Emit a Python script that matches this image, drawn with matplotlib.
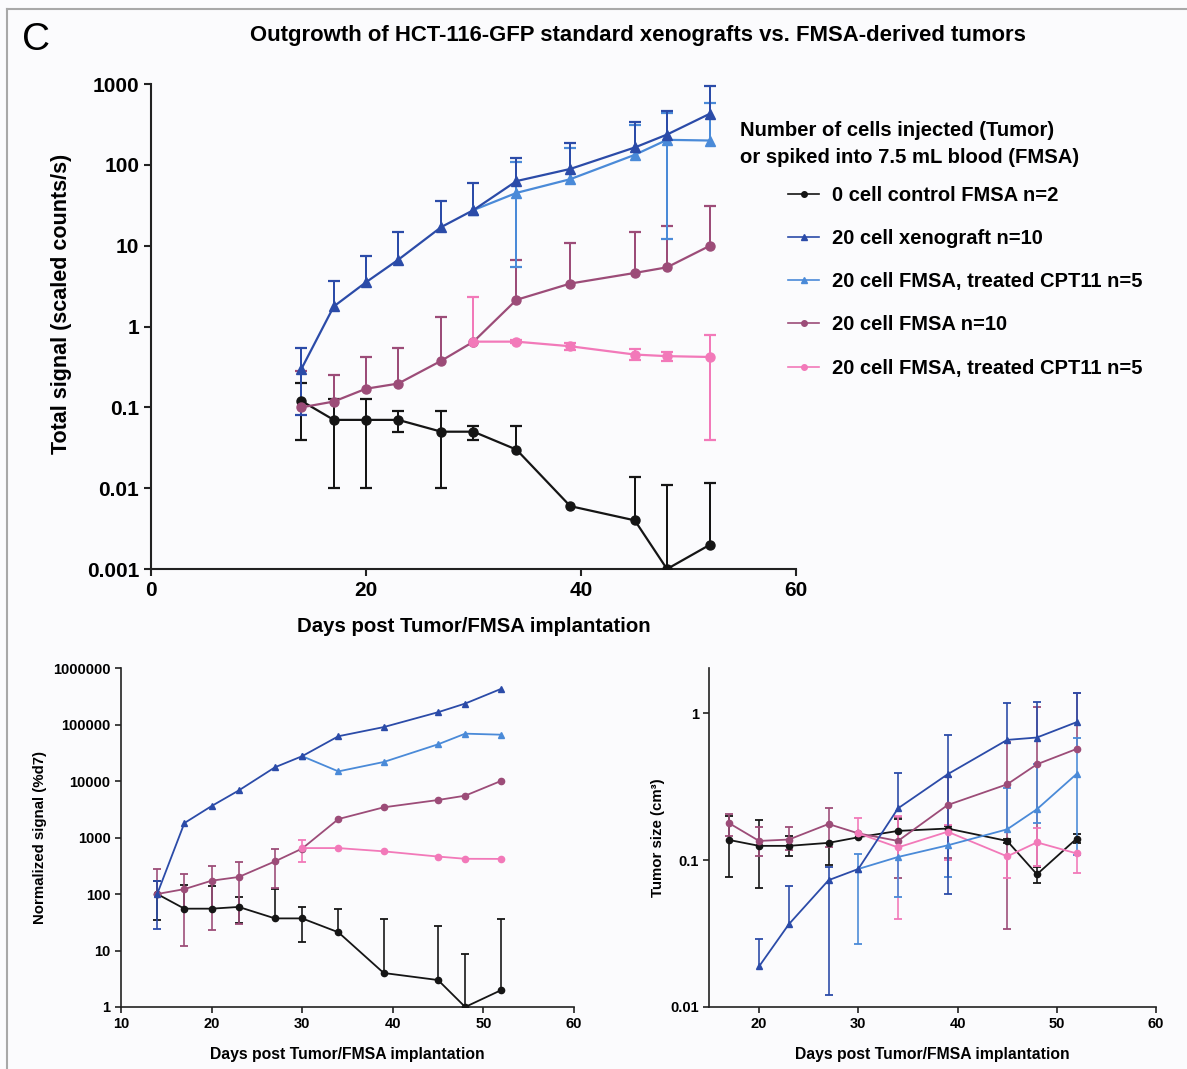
import matplotlib

matplotlib.use("Agg")
import matplotlib.pyplot as plt
import numpy as np
from matplotlib.lines import Line2D
from matplotlib.ticker import FixedLocator, FixedFormatter

nan = np.nan

# ---- data -----------------------------------------------------------------
days = [14, 17, 20, 23, 27, 30, 34, 39, 45, 48, 52]
days_late = [30, 34, 39, 45, 48, 52]
days_size = [17, 20, 23, 27, 30, 34, 39, 45, 48, 52]
days_size_xeno = [20, 23, 27, 30, 34, 39, 45, 48, 52]

legend_labels = [
    "0 cell control FMSA n=2",
    "20 cell xenograft n=10",
    "20 cell FMSA, treated CPT11 n=5",
    "20 cell FMSA n=10",
    "20 cell FMSA, treated CPT11 n=5",
]

# top panel: total signal (scaled counts/s)
sig_control = [0.12, 0.07, 0.07, 0.07, 0.05, 0.05, 0.03, 0.006, 0.004, 0.001, 0.002]
sig_control_hi = [0.2, 0.127, 0.127, 0.089, 0.089, 0.059, 0.059, nan, 0.0137, 0.0108, 0.0117]
sig_control_lo = [0.04, 0.01, 0.01, 0.049, 0.01, 0.04, nan, nan, nan, nan, nan]

sig_xeno = [0.3, 1.77, 3.53, 6.7, 17, 27.6, 63, 89, 164, 237, 430]
sig_xeno_hi = [0.54, 3.7, 7.5, 14.7, 36, 59, 120, 185, 340, 470, 940]
sig_xeno_lo = [0.08, nan, nan, nan, nan, nan, nan, nan, nan, nan, nan]

sig_cpt_blue = [27.6, 45, 66.5, 133, 204, 200]
sig_cpt_blue_hi = [nan, 110, 162, 310, 440, 580]
sig_cpt_blue_lo = [nan, 5.5, nan, nan, 12, nan]

sig_fmsa = [0.1, 0.118, 0.17, 0.197, 0.377, 0.65, 2.14, 3.4, 4.6, 5.4, 10]
sig_fmsa_hi = [0.28, 0.25, 0.42, 0.55, 1.33, nan, 6.7, 10.7, 14.7, 17.4, 31]
sig_fmsa_lo = [nan] * 11

sig_cpt_pink = [0.65, 0.65, 0.57, 0.45, 0.43, 0.42]
sig_cpt_pink_hi = [2.35, 0.68, 0.63, 0.52, 0.48, 0.79]
sig_cpt_pink_lo = [nan, 0.62, 0.51, 0.39, 0.37, 0.04]

# bottom left: normalized signal (%d7)
norm_control = [100, 55, 55, 59, 37, 37, 21, 4, 3, 1, 2]
norm_control_hi = [172, 146, 136, 87, 124, 60, 54, 36.5, 27.5, 8.8, 36.5]
norm_control_lo = [35, nan, nan, 31, nan, 14, nan, nan, nan, nan, nan]

norm_xeno = [100, 1800, 3600, 6800, 17500, 27500, 62000, 90000, 165000, 235000, 430000]
norm_xeno_hi = [170] + [nan] * 10
norm_xeno_lo = [24] + [nan] * 10

norm_cpt_blue = [27500, 14800, 21700, 44600, 68900, 66000]
norm_cpt_blue_hi = [nan] * 6
norm_cpt_blue_lo = [nan] * 6

norm_fmsa = [100, 122, 172, 200, 378, 637, 2120, 3420, 4610, 5500, 10100]
norm_fmsa_hi = [280, 230, 313, 372, 630, nan, nan, nan, nan, nan, nan]
norm_fmsa_lo = [nan, 12, 23, 30, 130, nan, nan, nan, nan, nan, nan]

norm_cpt_pink = [650, 650, 569, 460, 420, 418]
norm_cpt_pink_hi = [900, nan, nan, nan, nan, nan]
norm_cpt_pink_lo = [372, nan, nan, nan, nan, nan]

# bottom right: tumor size (cm3)
size_control = [0.137, 0.125, 0.125, 0.131, 0.143, 0.158, 0.164, 0.135, 0.080, 0.140]
size_control_hi = [0.2, 0.187, 0.146, nan, nan, 0.19, 0.17, 0.14, 0.09, 0.15]
size_control_lo = [0.077, 0.065, 0.106, 0.092, nan, nan, nan, 0.13, 0.07, 0.13]

size_xeno = [0.0189, 0.0366, 0.073, 0.087, 0.225, 0.384, 0.658, 0.683, 0.869]
size_xeno_hi = [0.029, 0.067, 0.09, nan, 0.39, 0.71, 1.17, 1.2, 1.37]
size_xeno_lo = [nan, nan, 0.012, nan, nan, 0.059, nan, nan, nan]

size_cpt_blue = [0.087, 0.105, 0.126, 0.162, 0.222, 0.386]
size_cpt_blue_hi = [0.11, nan, nan, 0.31, 0.45, 0.675]
size_cpt_blue_lo = [0.027, 0.056, 0.077, nan, 0.178, 0.108]

size_fmsa = [0.178, 0.135, 0.138, 0.176, 0.152, 0.135, 0.237, 0.328, 0.449, 0.571]
size_fmsa_hi = [0.206, 0.167, 0.169, 0.225, nan, 0.198, 0.37, 0.64, 1.1, 1.37]
size_fmsa_lo = [0.145, 0.106, 0.117, 0.123, nan, 0.075, 0.103, 0.034, 0.091, nan]

size_cpt_pink = [0.152, 0.122, 0.156, 0.106, 0.132, 0.111]
size_cpt_pink_hi = [0.192, 0.2, 0.172, nan, 0.165, nan]
size_cpt_pink_lo = [nan, 0.040, 0.1, 0.075, 0.091, 0.082]

top_yticks = [0.001, 0.01, 0.1, 1, 10, 100, 1000]
top_yticklabels = ["0.001", "0.01", "0.1", "1", "10", "100", "1000"]
norm_yticks = [1, 10, 100, 1000, 10000, 100000, 1000000]
norm_yticklabels = ["1", "10", "100", "1000", "10000", "100000", "1000000"]
size_yticks = [0.01, 0.1, 1]
size_yticklabels = ["0.01", "0.1", "1"]

# ---- style ----------------------------------------------------------------
BLACK = "#151515"
DARK_BLUE = "#2b4ba8"
LIGHT_BLUE = "#4a8ad8"
PURPLE = "#9c4c78"
PINK = "#f279b9"
BG = "#fbfbfd"

plt.rcParams["font.family"] = ["Liberation Sans", "DejaVu Sans"]
plt.rcParams["font.weight"] = "bold"


def draw_series(ax, x, y, hi, lo, color, marker, ms, lw, cap):
    """Line with markers plus one-sided or two-sided capped error bars."""
    x = np.asarray(x, float)
    y = np.asarray(y, float)
    for ends in (np.asarray(hi, float), np.asarray(lo, float)):
        ok = ~np.isnan(ends)
        if not ok.any():
            continue
        ax.vlines(x[ok], y[ok], ends[ok], color=color, lw=lw * 0.9, zorder=2)
        ax.plot(x[ok], ends[ok], ls="none", marker="_", ms=cap, mew=lw,
                color=color, zorder=2)
    ax.plot(x, y, color=color, lw=lw, marker=marker, ms=ms, zorder=3)


def style_axes(ax, yticks, yticklabels, xticks, fs, spine_w, tick_len):
    ax.set_yscale("log")
    ax.set_facecolor(BG)
    for side in ("top", "right"):
        ax.spines[side].set_visible(False)
    for side in ("left", "bottom"):
        ax.spines[side].set_linewidth(spine_w)
        ax.spines[side].set_color("#222222")
    ax.yaxis.set_major_locator(FixedLocator(yticks))
    ax.yaxis.set_major_formatter(FixedFormatter(yticklabels))
    ax.yaxis.set_minor_locator(FixedLocator([]))
    ax.set_xticks(xticks)
    ax.tick_params(direction="out", length=tick_len, width=spine_w,
                   labelsize=fs, color="#222222")
    for lab in ax.get_xticklabels() + ax.get_yticklabels():
        lab.set_fontweight("bold")


def plot_panel(ax, series, ms, lw, cap):
    for x, y, hi, lo, color, marker in series:
        draw_series(ax, x, y, hi, lo, color, marker, ms, lw, cap)


fig = plt.figure(figsize=(11.87, 10.69), dpi=100, facecolor=BG)

# ---- top panel ------------------------------------------------------------
ax_top = fig.add_axes([0.1272, 0.4677, 0.5434, 0.4537])
plot_panel(ax_top, [
    (days, sig_control, sig_control_hi, sig_control_lo, BLACK, "o"),
    (days, sig_fmsa, sig_fmsa_hi, sig_fmsa_lo, PURPLE, "o"),
    (days_late, sig_cpt_pink, sig_cpt_pink_hi, sig_cpt_pink_lo, PINK, "o"),
    (days_late, sig_cpt_blue, sig_cpt_blue_hi, sig_cpt_blue_lo, LIGHT_BLUE, "^"),
    (days, sig_xeno, sig_xeno_hi, sig_xeno_lo, DARK_BLUE, "^"),
], ms=6.5, lw=1.6, cap=9)
style_axes(ax_top, top_yticks, top_yticklabels, [0, 20, 40, 60], 15, 1.5, 5)
ax_top.set_xlim(0, 60)
ax_top.set_ylim(0.001, 1000)
ax_top.set_xlabel("Days post Tumor/FMSA implantation", fontsize=14.7,
                  fontweight="bold", labelpad=12)
ax_top.set_ylabel("Total signal (scaled counts/s)", fontsize=15.5,
                  fontweight="bold")
ax_top.yaxis.set_label_coords(-0.122, 0.546)

handles = [
    Line2D([], [], color=BLACK, marker="o", ms=4, lw=1.2),
    Line2D([], [], color=DARK_BLUE, marker="^", ms=4, lw=1.2),
    Line2D([], [], color=LIGHT_BLUE, marker="^", ms=4, lw=1.2),
    Line2D([], [], color=PURPLE, marker="o", ms=4, lw=1.2),
    Line2D([], [], color=PINK, marker="o", ms=4, lw=1.2),
]
fig.legend(handles, legend_labels, loc="upper left",
           bbox_to_anchor=(0.6555, 0.8355), frameon=False, borderpad=0,
           handlelength=1.55, handletextpad=0.65, labelspacing=1.2,
           prop={"size": 14.5, "weight": "bold"})
fig.text(740 / 1187, 1 - 131 / 1069, "Number of cells injected (Tumor)",
         fontsize=14.6, fontweight="bold", va="center")
fig.text(740 / 1187, 1 - 157 / 1069, "or spiked into 7.5 mL blood (FMSA)",
         fontsize=14.6, fontweight="bold", va="center")

fig.text(638 / 1187, 1 - 36 / 1069,
         "Outgrowth of HCT-116-GFP standard xenografts vs. FMSA-derived tumors",
         fontsize=15.9, fontweight="bold", ha="center", va="center")
fig.text(22 / 1187, 1 - 40 / 1069, "C", fontsize=28, fontweight="normal",
         va="center")

# ---- bottom left ----------------------------------------------------------
ax_bl = fig.add_axes([0.1019, 0.058, 0.3816, 0.3171])
plot_panel(ax_bl, [
    (days, norm_control, norm_control_hi, norm_control_lo, BLACK, "o"),
    (days, norm_fmsa, norm_fmsa_hi, norm_fmsa_lo, PURPLE, "o"),
    (days_late, norm_cpt_pink, norm_cpt_pink_hi, norm_cpt_pink_lo, PINK, "o"),
    (days_late, norm_cpt_blue, norm_cpt_blue_hi, norm_cpt_blue_lo, LIGHT_BLUE, "^"),
    (days, norm_xeno, norm_xeno_hi, norm_xeno_lo, DARK_BLUE, "^"),
], ms=4.5, lw=1.3, cap=6)
style_axes(ax_bl, norm_yticks, norm_yticklabels, [10, 20, 30, 40, 50, 60],
           10.5, 1.2, 4)
ax_bl.set_xlim(10, 60)
ax_bl.set_ylim(1, 1000000)
ax_bl.set_xlabel("Days post Tumor/FMSA implantation", fontsize=11.3,
                 fontweight="bold", labelpad=11)
ax_bl.set_ylabel("Normalized signal (%d7)", fontsize=10.8, fontweight="bold")
ax_bl.yaxis.set_label_coords(-0.163, 0.5)

# ---- bottom right ---------------------------------------------------------
ax_br = fig.add_axes([0.5977, 0.058, 0.3762, 0.3171])
plot_panel(ax_br, [
    (days_size, size_control, size_control_hi, size_control_lo, BLACK, "o"),
    (days_size, size_fmsa, size_fmsa_hi, size_fmsa_lo, PURPLE, "o"),
    (days_late, size_cpt_pink, size_cpt_pink_hi, size_cpt_pink_lo, PINK, "o"),
    (days_late, size_cpt_blue, size_cpt_blue_hi, size_cpt_blue_lo, LIGHT_BLUE, "^"),
    (days_size_xeno, size_xeno, size_xeno_hi, size_xeno_lo, DARK_BLUE, "^"),
], ms=4.5, lw=1.3, cap=6)
style_axes(ax_br, size_yticks, size_yticklabels, [20, 30, 40, 50, 60],
           10.5, 1.2, 4)
ax_br.set_xlim(15, 60)
ax_br.set_ylim(0.01, 2.03)
ax_br.set_xlabel("Days post Tumor/FMSA implantation", fontsize=11.3,
                 fontweight="bold", labelpad=11)
ax_br.set_ylabel("Tumor size (cm³)", fontsize=10.8, fontweight="bold",
                 labelpad=4)

# thin grey panel frame at the top-left
fig.add_artist(Line2D([7 / 1187, 7 / 1187], [0, 1 - 9 / 1069],
                      color="#a8a8a8", lw=1.5))
fig.add_artist(Line2D([7 / 1187, 1], [1 - 9 / 1069, 1 - 9 / 1069],
                      color="#a8a8a8", lw=1.5))

fig.savefig("out.png", dpi=100, facecolor=BG)
